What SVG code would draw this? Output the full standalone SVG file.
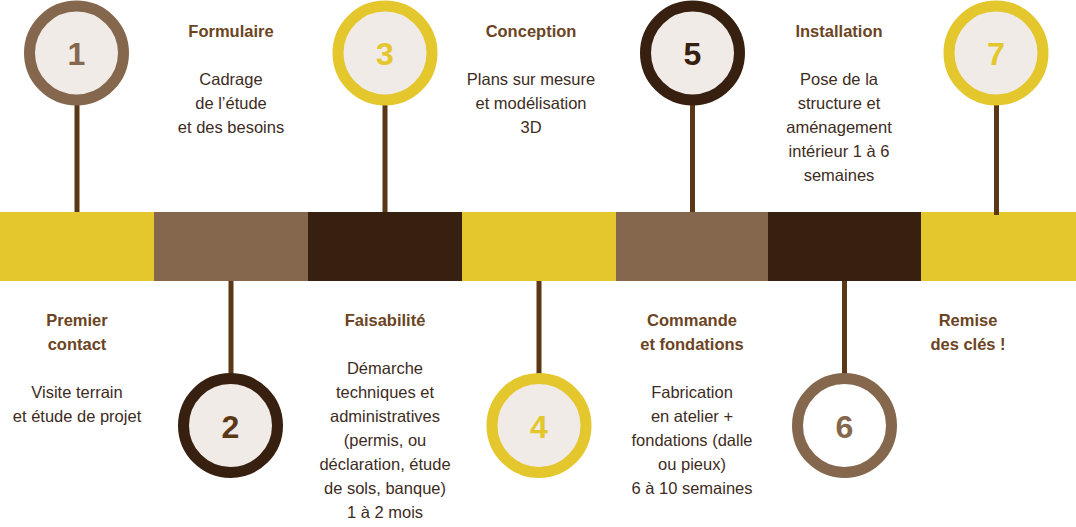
<svg xmlns="http://www.w3.org/2000/svg" width="1076" height="527" viewBox="0 0 1076 527">
<style>
.t{font-family:"Liberation Sans",Arial,sans-serif;font-size:16.5px;font-weight:bold;fill:#6b4423;text-anchor:middle}
.b{font-family:"Liberation Sans",Arial,sans-serif;font-size:16.5px;fill:#3d2c1e;text-anchor:middle}
.n{font-family:"Liberation Sans",Arial,sans-serif;font-size:32px;font-weight:bold;text-anchor:middle}
.stem{stroke:#5b3815;stroke-width:5}
.ring{stroke-width:11}
</style>
<rect width="1076" height="527" fill="#ffffff"/>
<g id="bar">
<rect x="0" y="212" width="154" height="69" fill="#e3c72c"/>
<rect x="154" y="212" width="154" height="69" fill="#85674d"/>
<rect x="308" y="212" width="154" height="69" fill="#372010"/>
<rect x="462" y="212" width="154" height="69" fill="#e3c72c"/>
<rect x="616" y="212" width="152" height="69" fill="#85674d"/>
<rect x="768" y="212" width="153" height="69" fill="#372010"/>
<rect x="921" y="212" width="155" height="69" fill="#e3c72c"/>
</g>
<g id="connectors">
<line class="stem" x1="77" y1="100" x2="77" y2="212"/>
<line class="stem" x1="231" y1="281" x2="231" y2="378"/>
<line class="stem" x1="385" y1="100" x2="385" y2="212"/>
<line class="stem" x1="539" y1="281" x2="539" y2="378"/>
<line class="stem" x1="692.5" y1="100" x2="692.5" y2="212"/>
<line class="stem" x1="844.5" y1="281" x2="844.5" y2="378"/>
<line class="stem" x1="996.5" y1="100" x2="996.5" y2="215"/>
</g>
<g id="step1">
<circle class="ring" cx="76.5" cy="53" r="47" fill="#f0ebe7" stroke="#85674d"/>
<text class="n" x="76.5" y="65" fill="#85674d">1</text>
<text class="t" x="231" y="37">Formulaire</text>
<text class="b" x="231" y="85">Cadrage</text>
<text class="b" x="231" y="109">de l’étude</text>
<text class="b" x="231" y="133">et des besoins</text>
</g>
<g id="step2">
<circle class="ring" cx="230.5" cy="425.5" r="47" fill="#f0ebe7" stroke="#372010"/>
<text class="n" x="230.5" y="437.5" fill="#5b3815">2</text>
<text class="t" x="77" y="326">Premier</text>
<text class="t" x="77" y="350">contact</text>
<text class="b" x="77" y="398">Visite terrain</text>
<text class="b" x="77" y="422">et étude de projet</text>
</g>
<g id="step3">
<circle class="ring" cx="385" cy="53" r="47" fill="#f0ebe7" stroke="#e3c72c"/>
<text class="n" x="385" y="65" fill="#e3c72c">3</text>
<text class="t" x="531" y="37">Conception</text>
<text class="b" x="531" y="85">Plans sur mesure</text>
<text class="b" x="531" y="109">et modélisation</text>
<text class="b" x="531" y="133">3D</text>
</g>
<g id="step4">
<circle class="ring" cx="539" cy="425.5" r="47" fill="#f0ebe7" stroke="#e3c72c"/>
<text class="n" x="539" y="437.5" fill="#e3c72c">4</text>
<text class="t" x="385" y="326">Faisabilité</text>
<text class="b" x="385" y="374">Démarche</text>
<text class="b" x="385" y="398">techniques et</text>
<text class="b" x="385" y="422">administratives</text>
<text class="b" x="385" y="446">(permis, ou</text>
<text class="b" x="385" y="470">déclaration, étude</text>
<text class="b" x="385" y="494">de sols, banque)</text>
<text class="b" x="385" y="518">1 à 2 mois</text>
</g>
<g id="step5">
<circle class="ring" cx="692.5" cy="53" r="47" fill="#f0ebe7" stroke="#372010"/>
<text class="n" x="692.5" y="65" fill="#372010">5</text>
<text class="t" x="839" y="37">Installation</text>
<text class="b" x="839" y="85">Pose de la</text>
<text class="b" x="839" y="109">structure et</text>
<text class="b" x="839" y="133">aménagement</text>
<text class="b" x="839" y="157">intérieur 1 à 6</text>
<text class="b" x="839" y="181">semaines</text>
</g>
<g id="step6">
<circle class="ring" cx="844.5" cy="425.5" r="47" fill="#ffffff" stroke="#85674d"/>
<text class="n" x="844.5" y="437.5" fill="#85674d">6</text>
<text class="t" x="692" y="326">Commande</text>
<text class="t" x="692" y="350">et fondations</text>
<text class="b" x="692" y="398">Fabrication</text>
<text class="b" x="692" y="422">en atelier +</text>
<text class="b" x="692" y="446">fondations (dalle</text>
<text class="b" x="692" y="470">ou pieux)</text>
<text class="b" x="692" y="494">6 à 10 semaines</text>
</g>
<g id="step7">
<circle class="ring" cx="996" cy="53" r="47" fill="#f0ebe7" stroke="#e3c72c"/>
<text class="n" x="996" y="65" fill="#e3c72c">7</text>
<text class="t" x="968" y="326">Remise</text>
<text class="t" x="968" y="350">des clés !</text>
</g>
</svg>
